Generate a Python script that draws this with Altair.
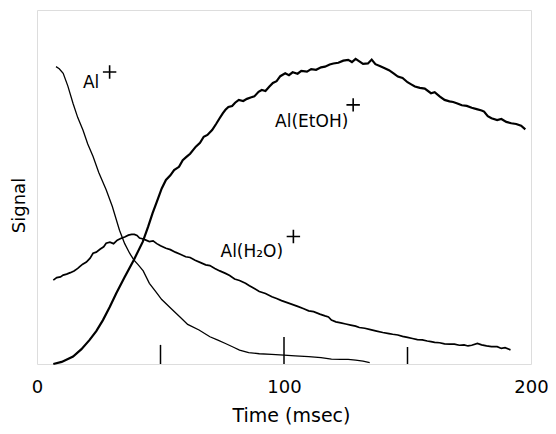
import altair as alt
import pandas as pd

# Al+ (thin, smooth)
al_t = [7.7, 9.0, 10.6, 12.5, 14.6, 16.5, 18.6, 20.5, 22.7, 25.0, 28.0, 30.5, 33.4, 35.5, 37.5,
        39.2, 41.0, 43.0, 45.5, 48.0, 50.5, 54.8, 58.0, 61.0, 65.6, 70.0, 73.0, 76.3, 80.0, 82.0,
        85.7, 90.0, 95.0, 100.0, 104.5, 110.0, 115.0, 119.2, 123.0, 126.0, 129.0, 132.0, 134.7]
al_s = [84.0, 83.4, 82.1, 78.5, 73.6, 69.6, 66.1, 62.2, 58.6, 54.1, 49.2, 44.5, 37.8, 34.0, 31.3,
        29.4, 28.0, 26.3, 22.8, 20.5, 18.2, 15.3, 13.2, 11.2, 9.6, 7.7, 6.8, 5.8, 4.6, 3.9,
        3.2, 2.9, 2.7, 2.5, 2.3, 2.1, 1.8, 1.4, 1.3, 1.3, 1.1, 0.8, 0.4]

# Al(EtOH)+ (thick, noisy)
etoh_t = [6.6, 10, 14.6, 18, 21.3, 24, 26.7, 29.5, 32.1, 35.5, 39.2, 42.8, 45, 46.8, 48.5, 50.5,
          52.2, 54, 55.5, 57.5, 59, 60.5, 62, 64.3, 66, 67.5, 69, 70.9, 72.5, 74, 75.2, 76.3,
          77.5, 79, 80.2, 81.7, 83.5, 85, 86.5, 88, 89.7, 91, 92.5, 94, 95.5, 97, 98.5, 100.5,
          102, 103.5, 105.5, 107, 109.3, 111, 113, 115, 116.6, 118.5, 120, 122, 124, 126, 127.5,
          129, 130.5, 132, 134, 135.5, 137, 139, 141, 142.5, 144.5, 146.1, 148, 150, 151.5, 153,
          155, 157, 159.5, 161, 163, 165, 167, 168.5, 170.2, 172, 174, 176, 178, 180, 181, 182.5,
          184, 186.3, 188, 190, 192, 194, 196, 197.7]
etoh_s = [0, 0.6, 2.1, 4.2, 6.8, 9.3, 12.4, 16.2, 20.0, 24.6, 29.4, 34.5, 38.8, 42.6, 45.8, 49.6,
          52.0, 53.3, 54.8, 55.7, 57.6, 58.5, 59.4, 61.4, 62.5, 64.2, 64.7, 66.1, 67.8, 69.5, 70.8, 71.8,
          72.6, 72.9, 73.8, 74.6, 74.3, 74.9, 75.3, 75.6, 76.9, 77.4, 77.1, 78.3, 79.4, 79.9, 81.3, 82.1,
          81.6, 82.4, 82.0, 82.8, 82.6, 83.3, 83.1, 83.8, 84.0, 84.6, 84.9, 85.1, 85.7, 85.9, 85.3,
          86.2, 85.5, 84.8, 84.9, 86.0, 84.7, 84.1, 83.5, 83.0, 82.0, 81.2, 80.8, 79.6, 79.0, 78.4,
          78.0, 77.8, 76.5, 76.8, 75.6, 74.6, 74.2, 74.0, 73.6, 73.1, 72.9, 72.4, 72.0, 71.6, 71.3, 70.0,
          69.4, 68.9, 69.2, 68.4, 68.0, 67.8, 67.3, 66.3]

# Al(H2O)+ (medium, noisy)
h2o_t = [6.6, 8, 9.5, 10.6, 12, 13.5, 15, 16.5, 17.3, 18.5, 20, 21.5, 22.7, 24, 25.5, 27, 28,
         29.5, 31, 32.5, 34.1, 35.5, 37, 38.3, 39.4, 40.5, 41.5, 43, 44.1, 45.5, 47, 48.5, 50,
         52.2, 54, 56, 58, 60.2, 62, 64, 66, 68.3, 70, 72, 74, 76.3, 78, 80, 82, 84.4, 86, 88, 90,
         92.5, 95.1, 97, 99, 101, 103, 105.8, 108, 110, 112, 114.5, 116.6, 118, 119.2, 121, 123,
         125, 127, 129, 130.5, 132.7, 135, 137.5, 140, 142.5, 144, 146.1, 148, 150, 152, 154, 156,
         158, 159.5, 161, 163, 165, 167, 169, 171, 172.9, 174.5, 176, 178.3, 180, 182, 184, 186.3,
         188, 189.5, 191.7]
h2o_s = [23.7, 24.4, 24.6, 25.1, 25.4, 25.8, 26.3, 27.0, 27.5, 28.2, 28.8, 29.9, 31.3, 31.6, 32.4,
         33.1, 34.1, 34.4, 34.0, 35.0, 35.5, 35.9, 36.4, 36.6, 36.6, 36.3, 35.6, 35.3, 35.0, 34.6,
         34.8, 34.0, 33.4, 32.7, 32.3, 31.6, 31.0, 30.3, 30.1, 29.3, 28.7, 28.0, 27.8, 27.0, 26.3,
         25.6, 25.0, 24.0, 23.6, 22.8, 22.1, 21.3, 20.5, 19.9, 19.0, 18.5, 17.9, 17.4, 16.9, 16.2,
         15.6, 15.0, 14.8, 14.1, 13.6, 13.3, 12.4, 11.9, 11.6, 11.3, 11.0, 10.7, 10.3, 10.1, 9.7,
         9.3, 8.9, 8.6, 8.4, 8.2, 7.8, 7.5, 7.2, 6.9, 6.8, 6.5, 6.3, 6.1, 6.0, 5.7, 5.6, 5.6, 5.3,
         5.4, 5.1, 5.3, 5.8, 5.4, 5.1, 4.9, 4.9, 4.4, 4.6, 4.0]

# inner ticks on the bottom axis
tick_t = [50, 100, 150]
tick_len = [5.4, 7.6, 4.8]

# curve labels
label_text = ["Al", "Al(EtOH)", "Al(H\u2082O)"]
label_t = [18.6, 96.4, 74.3]
label_s = [78.0, 67.0, 30.3]
plus_t = [29.4, 128.0, 103.8]
plus_s = [82.5, 73.2, 36.0]

FONT = "DejaVu Sans"
x_scale = alt.Scale(domain=[0, 200], nice=False, zero=False)
y_scale = alt.Scale(domain=[0, 100], nice=False, zero=False)
x_axis = alt.Axis(values=[0, 100, 200], ticks=False, domain=False, grid=False,
                  labelFontSize=18, labelFont=FONT, labelColor="black", labelPadding=14,
                  labelFlush=False, title="Time  (msec)", titleFont=FONT, titleFontSize=19,
                  titleFontWeight="normal", titleColor="black",
                  titleBaseline="alphabetic", titleX=254, titleY=57)
y_axis = alt.Axis(labels=False, ticks=False, domain=False, grid=False, title="Signal",
                  titleFont=FONT, titleFontSize=18, titleFontWeight="normal",
                  titleColor="black", titlePadding=9, titleY=195)

X = alt.X("t:Q", scale=x_scale, axis=x_axis)
Y = alt.Y("s:Q", scale=y_scale, axis=y_axis)

df_al = pd.DataFrame({"t": al_t, "s": al_s})
df_et = pd.DataFrame({"t": etoh_t, "s": etoh_s})
df_h2 = pd.DataFrame({"t": h2o_t, "s": h2o_s})
df_tick = pd.DataFrame({"t": tick_t, "len": tick_len})
df_lab = pd.DataFrame({"t": label_t, "s": label_s, "text": label_text})
df_plus = pd.DataFrame({"t": plus_t, "s": plus_s})

line_al = alt.Chart(df_al).mark_line(color="black", strokeWidth=1.3).encode(x=X, y=Y, order="t:Q")
line_et = alt.Chart(df_et).mark_line(color="black", strokeWidth=2.2).encode(x=X, y=Y, order="t:Q")
line_h2 = alt.Chart(df_h2).mark_line(color="black", strokeWidth=1.7).encode(x=X, y=Y, order="t:Q")

ticks = alt.Chart(df_tick).transform_calculate(s="0").mark_rule(
    color="black", strokeWidth=1.5).encode(x=X, y=Y, y2=alt.Y2("len:Q"))

labels = alt.Chart(df_lab).mark_text(align="left", baseline="alphabetic", fontSize=17,
                                     font=FONT, color="black").encode(x=X, y=Y, text="text:N")
plus = alt.Chart(df_plus).mark_point(shape="M-1,0H1M0,-1V1", filled=False, size=180,
                                     strokeWidth=1.6, color="black", opacity=1).encode(x=X, y=Y)

chart = alt.layer(line_h2, line_al, line_et, ticks, labels, plus).properties(
    width=494, height=354,
    padding={"left": 29, "top": 2, "right": 17, "bottom": 62},
    autosize=alt.AutoSizeParams(type="none"),
).configure_view(stroke="black", strokeWidth=2).configure(background="white")

chart.save("out.html", embed_options={"renderer": "svg", "actions": False})
